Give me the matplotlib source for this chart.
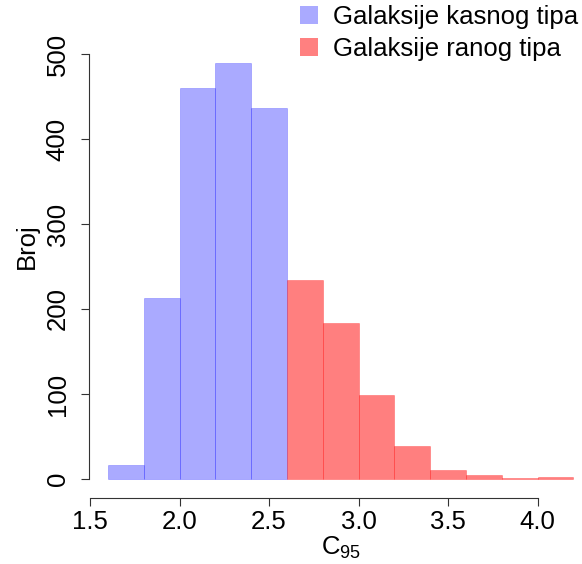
import matplotlib
matplotlib.use('Agg')
import matplotlib.pyplot as plt
from matplotlib.patches import Patch

plt.rcParams['font.family'] = ['Liberation Sans', 'DejaVu Sans']
plt.rcParams['mathtext.default'] = 'regular'

# histogram bins (C95) and counts per galaxy type
bin_width = 0.2
late_left = [1.6, 1.8, 2.0, 2.2, 2.4]
late_counts = [17, 213, 460, 490, 437]
early_left = [2.6, 2.8, 3.0, 3.2, 3.4, 3.6, 3.8, 4.0]
early_counts = [234, 184, 99, 39, 11, 5, 1, 2]
labels = ['Galaksije kasnog tipa', 'Galaksije ranog tipa']
x_ticks = [1.5, 2.0, 2.5, 3.0, 3.5, 4.0]
y_ticks = [0, 100, 200, 300, 400, 500]

blue = (0, 0, 1, 1 / 3)
red = (1, 0, 0, 0.5)
fs = 18.5

fig = plt.figure(figsize=(5.82, 5.64), dpi=100)
ax = fig.add_axes([89.3 / 582, (564 - 497.7) / 564, (592 - 89.3) / 582, (497.7 + 7.2) / 564])

ax.bar(late_left, late_counts, width=bin_width, align='edge',
       facecolor=blue, edgecolor=(0, 0, 1, 0.25), linewidth=0.6)
ax.bar(early_left, early_counts, width=bin_width, align='edge',
       facecolor=red, edgecolor=(1, 0, 0, 0.3), linewidth=0.6)

ax.set_xlim(1.496, 4.304)
ax.set_ylim(-22, 572)

for side in ['top', 'right']:
    ax.spines[side].set_visible(False)
ax.spines['bottom'].set_bounds(1.5, 4.0)
ax.spines['left'].set_bounds(0, 500)
for side in ['bottom', 'left']:
    ax.spines[side].set_linewidth(0.8)
    ax.spines[side].set_color('#333333')

ax.set_xticks(x_ticks)
ax.set_xticklabels(['%.1f' % v for v in x_ticks])
ax.set_yticks(y_ticks)
ax.set_yticklabels([str(v) for v in y_ticks], rotation=90, va='center')
ax.tick_params(axis='both', labelsize=fs, length=6, width=0.8, color='#333333')
ax.tick_params(axis='x', pad=3)
ax.tick_params(axis='y', pad=8)

ax.set_xlabel(r'$\mathregular{C_{95}}$', fontsize=fs)
ax.xaxis.set_label_coords(0.5, -(535 - 497.7) / 505)
ax.set_ylabel('Broj', fontsize=fs, va='center')
ax.yaxis.set_label_coords(-(89.3 - 27) / 502.7, (497.7 - 245.6) / 505)

handles = [Patch(facecolor='#AAAAFF', edgecolor='none'),
           Patch(facecolor='#FF8080', edgecolor='none')]
fig.legend(handles, labels, loc='upper left', bbox_to_anchor=(300 / 582, 1 - 5 / 564),
           frameon=False, fontsize=fs, handlelength=0.72, handleheight=0.68,
           handletextpad=0.55, labelspacing=0.3, borderpad=0, borderaxespad=0)

fig.savefig('out.png', dpi=100)
